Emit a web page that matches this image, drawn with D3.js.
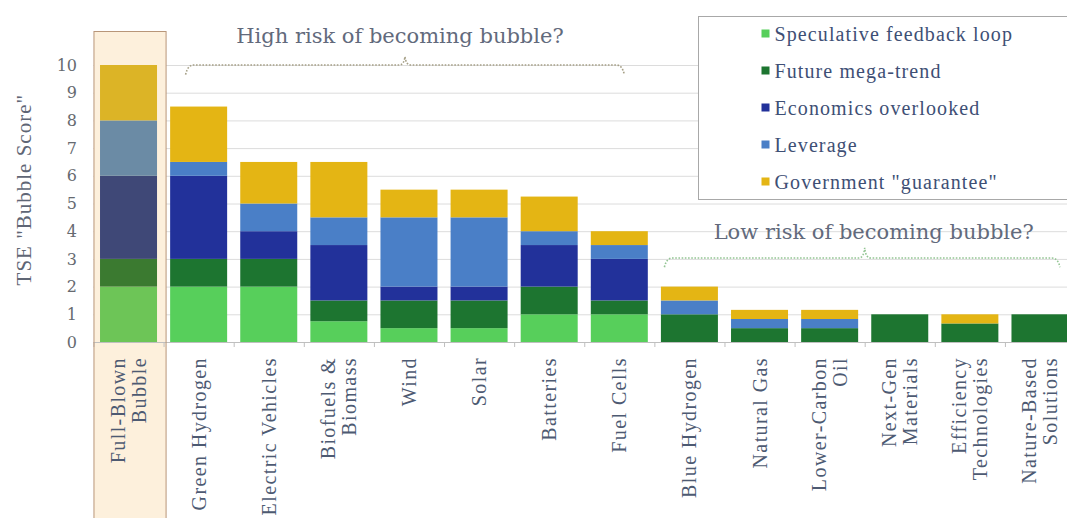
<!DOCTYPE html>
<html>
<head>
<meta charset="utf-8">
<script src="https://cdn.jsdelivr.net/npm/d3@7"></script>
<style>
  html, body { margin: 0; padding: 0; background: #ffffff; }
  svg { display: block; }
</style>
</head>
<body>
<svg id="chart" width="1067" height="518"></svg>
<script>
// Technologies scored on the five bubble factors (lines split with "|")
const categories = [
  "Full-Blown|Bubble", "Green Hydrogen", "Electric Vehicles", "Biofuels &|Biomass",
  "Wind", "Solar", "Batteries", "Fuel Cells", "Blue Hydrogen", "Natural Gas",
  "Lower-Carbon|Oil", "Next-Gen|Materials", "Efficiency|Technologies", "Nature-Based|Solutions"
];
const speculative = [2, 2, 2, 0.75, 0.5, 0.5, 1, 1, 0, 0, 0, 0, 0, 0];
const megaTrend   = [1, 1, 1, 0.75, 1, 1, 1, 0.5, 1, 0.5, 0.5, 1, 0.67, 1];
const economics   = [3, 3, 1, 2, 0.5, 0.5, 1.5, 1.5, 0, 0, 0, 0, 0, 0];
const leverage    = [2, 0.5, 1, 1, 2.5, 2.5, 0.5, 0.5, 0.5, 0.33, 0.33, 0, 0, 0];
const government  = [2, 2, 1.5, 2, 1, 1, 1.25, 0.5, 0.5, 0.33, 0.33, 0, 0.33, 0];

const seriesNames = ["Speculative feedback loop", "Future mega-trend", "Economics overlooked",
                     "Leverage", "Government \"guarantee\""];
const seriesColors = ["#57cf5b", "#1d7530", "#22319a", "#4a7fc7", "#e4b514"];
// muted tones used inside the highlighted reference column
const mutedColors = ["#6dc557", "#3b7a30", "#3f4877", "#6b8ba5", "#dcb426"];
const yTicks = [0, 1, 2, 3, 4, 5, 6, 7, 8, 9, 10];
const yTitle = "TSE \"Bubble Score\"";
const highLabel = "High risk of becoming bubble?";
const lowLabel = "Low risk of becoming bubble?";

const svg = d3.select("#chart");
const seriesValues = [speculative, megaTrend, economics, leverage, government];

const rows = categories.map((c, i) => {
  const r = { cat: c };
  seriesNames.forEach((s, k) => { r[s] = seriesValues[k][i]; });
  return r;
});
const stacked = d3.stack().keys(seriesNames)(rows);

const x = d3.scaleBand().domain(categories).range([93.5, 1075])
  .paddingInner(0.187).paddingOuter(0.093);
const y = d3.scaleLinear().domain([0, 10]).range([342, 65]);
const color = d3.scaleOrdinal().domain(seriesNames).range(seriesColors);
const muted = d3.scaleOrdinal().domain(seriesNames).range(mutedColors);
const step = x.step(), bw = x.bandwidth(), gap = step - bw;
const hl = categories[0];

// horizontal gridlines
svg.append("g").selectAll("line").data(yTicks.filter(t => t > 0)).join("line")
  .attr("x1", x.range()[0]).attr("x2", x.range()[1])
  .attr("y1", d => y(d) + 0.5).attr("y2", d => y(d) + 0.5)
  .attr("stroke", "#dcdcdc").attr("stroke-width", 1);

// highlighted reference column background
const hlBox = {
  x: x(hl) - gap / 2 + 0.5,
  y: y(10) - 33.5,
  w: step + 2
};
svg.append("rect")
  .attr("x", hlBox.x).attr("y", hlBox.y)
  .attr("width", hlBox.w).attr("height", 530 - hlBox.y)
  .attr("fill", "#fdf0dc");

// stacked bars
svg.append("g").selectAll("g").data(stacked).join("g")
  .each(function (s) {
    d3.select(this).selectAll("rect").data(s).join("rect")
      .attr("fill", d => d.data.cat === hl ? muted(s.key) : color(s.key))
      .attr("x", d => x(d.data.cat))
      .attr("width", bw)
      .attr("y", d => y(d[1]))
      .attr("height", d => Math.max(0, y(d[0]) - y(d[1])));
  });

// x baseline and band separators
svg.append("line")
  .attr("x1", x.range()[0]).attr("x2", x.range()[1])
  .attr("y1", y(0) + 0.5).attr("y2", y(0) + 0.5)
  .attr("stroke", "#bfbfbf");
svg.append("g").selectAll("line").data(categories).join("line")
  .attr("x1", d => x(d) - gap / 2 + 0.5).attr("x2", d => x(d) - gap / 2 + 0.5)
  .attr("y1", y(0)).attr("y2", y(0) + 5)
  .attr("stroke", "#bfbfbf");

// highlighted column outline
svg.append("rect")
  .attr("x", hlBox.x).attr("y", hlBox.y)
  .attr("width", hlBox.w).attr("height", 530 - hlBox.y)
  .attr("fill", "none")
  .attr("stroke", "#b89679").attr("stroke-width", 1);

// y tick labels
svg.append("g").selectAll("text").data(yTicks).join("text")
  .attr("x", 77).attr("y", d => y(d))
  .attr("dy", "0.35em")
  .attr("text-anchor", "end")
  .attr("font-family", "DejaVu Serif")
  .attr("font-size", 16)
  .attr("fill", "#666a70")
  .text(d => d);

// y axis title
svg.append("text")
  .attr("transform", `translate(31, ${y(5.5)}) rotate(-90)`)
  .attr("text-anchor", "middle")
  .attr("font-family", "Liberation Serif")
  .attr("font-size", 21)
  .attr("letter-spacing", 1)
  .attr("fill", "#5f6675")
  .text(yTitle);

// category labels, rotated
const lh = 21;
const xl = svg.append("g").selectAll("text").data(categories).join("text")
  .attr("transform", d => `translate(${x(d) + bw / 2}, 357) rotate(-90)`)
  .attr("text-anchor", "end")
  .attr("font-family", "Liberation Serif")
  .attr("font-size", 20)
  .attr("letter-spacing", 1.4)
  .attr("fill", "#4d5a72");
xl.each(function (d) {
  const lines = d.split("|");
  const t = d3.select(this);
  lines.forEach((ln, i) => {
    t.append("tspan")
      .attr("x", 0)
      .attr("y", (i - (lines.length - 1) / 2) * lh)
      .attr("dy", "0.35em")
      .text(ln);
  });
});

// dotted braces over the two groups
function brace(x0, x1, xm, yLine, yPeak, yEnd) {
  const p = d3.path();
  p.moveTo(x0, yEnd);
  p.quadraticCurveTo(x0 + 2, yLine, x0 + 8, yLine);
  p.lineTo(xm - 6, yLine);
  p.quadraticCurveTo(xm - 1, yLine, xm, yPeak);
  p.quadraticCurveTo(xm + 1, yLine, xm + 6, yLine);
  p.lineTo(x1 - 8, yLine);
  p.quadraticCurveTo(x1 - 2, yLine, x1, yEnd);
  return p.toString();
}
const cx = c => x(c) + bw / 2;
svg.append("path")
  .attr("d", brace(cx(categories[1]) - 13, cx(categories[7]) + 5, cx(categories[4]) - 4,
                   y(10.0), y(10.3), y(9.65)))
  .attr("fill", "none").attr("stroke", "#a59f86")
  .attr("stroke-width", 1.6).attr("stroke-dasharray", "1.6,1.6");
svg.append("path")
  .attr("d", brace(cx(categories[8]) - 25, cx(categories[13]) + 20,
                   (cx(categories[10]) + cx(categories[11])) / 2,
                   y(3.03), y(3.4), y(2.7)))
  .attr("fill", "none").attr("stroke", "#93c593")
  .attr("stroke-width", 1.6).attr("stroke-dasharray", "1.6,1.6");

svg.append("text")
  .attr("x", cx(categories[4]) - 9).attr("y", y(10) - 29)
  .attr("dy", "0.35em").attr("text-anchor", "middle")
  .attr("font-family", "DejaVu Serif").attr("font-size", 21)
  .attr("fill", "#626a7c")
  .text(highLabel);
svg.append("text")
  .attr("x", (cx(categories[10]) + cx(categories[11])) / 2 + 9).attr("y", y(3.97))
  .attr("dy", "0.35em").attr("text-anchor", "middle")
  .attr("font-family", "DejaVu Serif").attr("font-size", 21)
  .attr("fill", "#626a7c")
  .text(lowLabel);

// legend
const lg = svg.append("g").attr("transform", "translate(698.5, 16.5)");
lg.append("rect").attr("width", 380).attr("height", 183)
  .attr("fill", "#ffffff").attr("stroke", "#a8a8a8");
const items = lg.selectAll("g").data(seriesNames).join("g")
  .attr("transform", (d, i) => `translate(0, ${17 + i * 37})`);
items.append("rect").attr("x", 63).attr("y", -4).attr("width", 8).attr("height", 8)
  .attr("fill", d => color(d));
items.append("text").attr("x", 76).attr("dy", "0.35em")
  .attr("font-family", "Liberation Serif").attr("font-size", 20)
  .attr("letter-spacing", 1.1)
  .attr("fill", "#3e4f75")
  .text(d => d);
</script>
</body>
</html>
